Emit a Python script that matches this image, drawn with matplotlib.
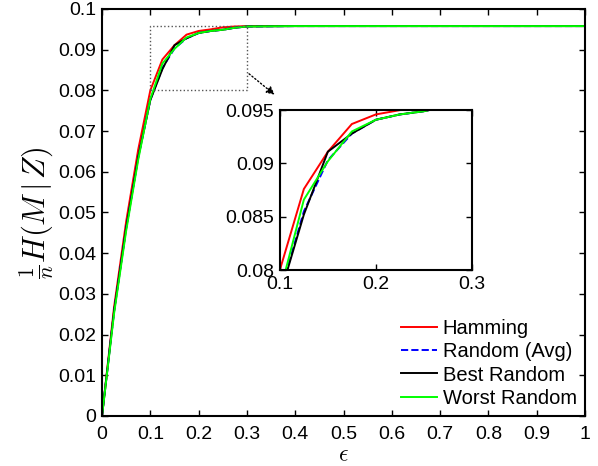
import numpy as np
import matplotlib
matplotlib.use('Agg')
import matplotlib.pyplot as plt
from matplotlib import rcParams

# ======================
# 全局样式
# ======================
rcParams['font.family'] = ['Liberation Sans', 'DejaVu Sans']
rcParams['mathtext.fontset'] = 'cm'

# 数据
eps = [0, 0.025, 0.05, 0.075, 0.1, 0.125, 0.15, 0.175, 0.2, 0.225, 0.25, 0.275,
       0.3, 0.4, 0.5, 0.6, 0.7, 0.8, 0.9, 1.0]
hamming = [0, 0.0268, 0.0478, 0.0655, 0.0800, 0.0876, 0.0911, 0.0937, 0.0946,
           0.0950, 0.0955, 0.0957, 0.0958, 0.0958, 0.0958, 0.0958, 0.0958,
           0.0958, 0.0958, 0.0958]
random_avg = [0, 0.0258, 0.0462, 0.0636, 0.0777, 0.0855, 0.0903, 0.0928, 0.0941,
              0.0946, 0.0949, 0.0954, 0.0957, 0.0958, 0.0958, 0.0958, 0.0958,
              0.0958, 0.0958, 0.0958]
best_random = [0, 0.0258, 0.0462, 0.0636, 0.0776, 0.0852, 0.0911, 0.0928, 0.0941,
               0.0946, 0.0949, 0.0954, 0.0957, 0.0958, 0.0958, 0.0958, 0.0958,
               0.0958, 0.0958, 0.0958]
worst_random = [0, 0.0252, 0.0455, 0.0630, 0.0779, 0.0866, 0.0902, 0.0930, 0.0941,
                0.0946, 0.0949, 0.0954, 0.0957, 0.0958, 0.0958, 0.0958, 0.0958,
                0.0958, 0.0958, 0.0958]

series = [
    (hamming, 'Hamming', '#ff0000', '-'),
    (random_avg, 'Random (Avg)', '#0000ff', '--'),
    (best_random, 'Best Random', '#000000', '-'),
    (worst_random, 'Worst Random', '#00ff00', '-'),
]

main_xticks = [0, 0.1, 0.2, 0.3, 0.4, 0.5, 0.6, 0.7, 0.8, 0.9, 1]
main_xlabels = ['0', '0.1', '0.2', '0.3', '0.4', '0.5', '0.6', '0.7', '0.8', '0.9', '1']
main_yticks = [0, 0.01, 0.02, 0.03, 0.04, 0.05, 0.06, 0.07, 0.08, 0.09, 0.1]
main_ylabels = ['0', '0.01', '0.02', '0.03', '0.04', '0.05', '0.06', '0.07', '0.08', '0.09', '0.1']
inset_xticks = [0.1, 0.2, 0.3]
inset_yticks = [0.08, 0.085, 0.09, 0.095]
inset_ylabels = ['0.08', '0.085', '0.09', '0.095']


def style_axes(ax):
    ax.tick_params(axis='both', which='major', direction='in', top=True, right=True,
                   labelsize=14, width=1.0, length=4, pad=4)
    for spine in ax.spines.values():
        spine.set_linewidth(1.5)


fig = plt.figure(figsize=(5.98, 4.66), dpi=100)
fig.set_facecolor('white')
ax = fig.add_axes([0.1706, 0.1073, 0.8077, 0.8734])

for vals, name, c, ls in series:
    ax.plot(eps, vals, color=c, linestyle=ls, linewidth=1.4, label=name)

ax.set_xlim(0, 1)
ax.set_ylim(0, 0.1)
ax.set_xticks(main_xticks)
ax.set_xticklabels(main_xlabels)
ax.set_yticks(main_yticks)
ax.set_yticklabels(main_ylabels)
style_axes(ax)
ax.tick_params(axis='x', pad=7)
ax.set_xlabel(r'$\epsilon$', fontsize=17, labelpad=1)
ax.set_ylabel(r'$\frac{1}{n}H(M\,|\,Z)$', fontsize=22, labelpad=2)

leg = ax.legend(loc='lower right', fontsize=14.5, frameon=False, handlelength=1.8,
                handletextpad=0.3, labelspacing=0.22, borderaxespad=0.0)

# 放大区域的虚线框和箭头
ax.plot([0.1, 0.3, 0.3, 0.1, 0.1], [0.08, 0.08, 0.0959, 0.0959, 0.08],
        color='#555555', linestyle=':', linewidth=1.0)
ax.annotate('', xy=(0.362, 0.0785), xytext=(0.3, 0.0845),
            arrowprops=dict(arrowstyle='-|>', linestyle=':', color='black',
                            linewidth=1.0, mutation_scale=12))

# ======================
# 内嵌放大图
# ======================
axin = fig.add_axes([0.468, 0.4206, 0.321, 0.343])
for vals, name, c, ls in series:
    axin.plot(eps, vals, color=c, linestyle=ls, linewidth=1.4)
axin.set_xlim(0.1, 0.3)
axin.set_ylim(0.08, 0.095)
axin.set_xticks(inset_xticks)
axin.set_xticklabels(['0.1', '0.2', '0.3'])
axin.set_yticks(inset_yticks)
axin.set_yticklabels(inset_ylabels)
style_axes(axin)

plt.savefig('out.png', dpi=100, facecolor='white')
